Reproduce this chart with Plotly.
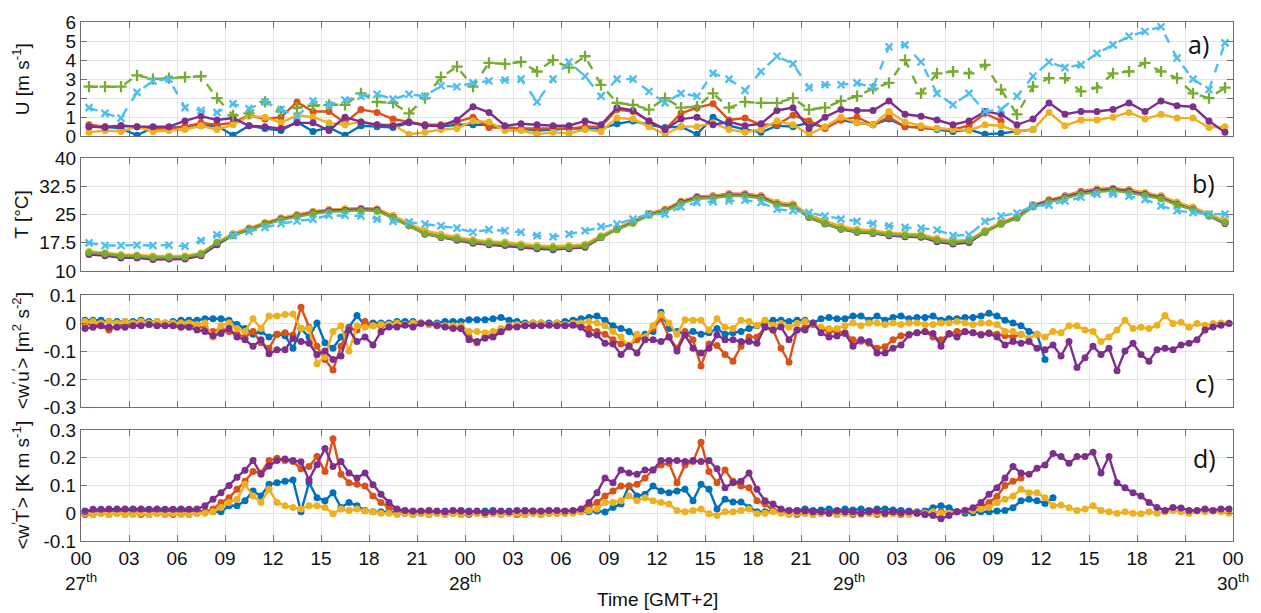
import plotly.graph_objects as go

# ---------------------------------------------------------------- time axes
# hours since 27th 00:00 (GMT+2); hourly means centred on :30,
# half-hourly fluxes centred on :15 / :45
hours = [k + 0.5 for k in range(72)]
half_hours = [0.25 + 0.5 * j for j in range(144)]

tick_hours = list(range(0, 73, 3))
tick_text = ["00<br>27<sup>th</sup>", "03", "06", "09", "12", "15", "18", "21",
             "00<br>28<sup>th</sup>", "03", "06", "09", "12", "15", "18", "21",
             "00<br>29<sup>th</sup>", "03", "06", "09", "12", "15", "18", "21",
             "00<br>30<sup>th</sup>"]

# ---------------------------------------------------------------- a) wind speed U [m/s]
u_blue = [0.5, 0.5, 0.4, 0.05, 0.45, 0.45, 0.5, 0.55, 0.55, 0.05, 0.55, 0.4, 0.3, 0.75, 0.25, 0.45, 0.05, 0.55, 0.5, 0.45, 0.7, 0.6, 0.5, 0.6,
          0.6, 0.6, 0.45, 0.4, 0.3, 0.35, 0.4, 0.4, 0.4, 0.65, 0.8, 0.6, 0.45, 0.5, 0.1, 1.0, 0.55, 0.35, 0.2, 0.55, 0.5, 0.7, 0.45, 0.85,
          0.7, 0.6, 0.9, 0.5, 0.45, 0.35, 0.25, 0.35, 0.1, 0.15, 0.25, 0.35] + [None] * 12
u_orange = [0.6, 0.5, 0.55, 0.5, 0.4, 0.4, 0.5, 0.7, 0.6, 0.7, 1.1, 0.9, 1.0, 1.8, 1.3, 1.3, 0.7, 1.4, 1.25, 0.9, 0.75, 0.6, 0.6, 0.75,
            1.0, 0.45, 0.45, 0.4, 0.4, 0.4, 0.4, 0.5, 0.5, 1.4, 1.3, 0.8, 0.35, 1.2, 1.5, 1.7, 0.85, 0.95, 0.6, 0.6, 1.1, 0.8, 0.4, 0.85,
            1.0, 0.6, 1.0, 0.5, 0.45, 0.4, 0.35, 0.55, 1.2, 0.8] + [None] * 14
u_yellow = [0.2, 0.3, 0.25, 0.5, 0.25, 0.3, 0.35, 0.55, 0.35, 0.6, 1.05, 1.0, 0.7, 1.1, 1.0, 0.7, 0.6, 0.75, 0.6, 0.6, 0.1, 0.2, 0.35, 0.4,
            0.8, 0.75, 0.3, 0.3, 0.1, 0.2, 0.15, 0.35, 0.25, 0.95, 0.9, 0.5, 0.1, 0.5, 0.5, 0.7, 0.35, 0.2, 0.35, 0.8, 0.6, 0.1, 0.5, 1.0,
            0.7, 0.6, 1.3, 0.75, 0.55, 0.4, 0.35, 0.3, 0.6, 0.55, 0.25, 0.35, 1.25, 0.55, 0.85, 0.85, 1.0, 1.25, 0.9, 1.15, 0.95, 0.95, 0.45, 0.5]
u_purple = [0.5, 0.45, 0.55, 0.5, 0.5, 0.5, 0.8, 1.05, 0.85, 0.95, 0.55, 0.5, 0.4, 0.7, 0.7, 0.3, 1.0, 0.75, 0.6, 0.55, 0.75, 0.55, 0.55, 0.85,
            1.55, 1.25, 0.55, 0.65, 0.6, 0.55, 0.55, 0.8, 0.6, 1.5, 1.35, 0.8, 0.35, 0.9, 1.0, 0.6, 0.75, 0.55, 0.65, 1.35, 1.5, 0.4, 1.0, 1.4,
            1.35, 1.35, 1.85, 1.15, 1.05, 0.85, 0.6, 0.8, 1.3, 1.15, 0.6, 0.9, 1.75, 1.15, 1.3, 1.3, 1.4, 1.75, 1.3, 1.85, 1.6, 1.55, 0.8, 0.2]
u_green = [2.6, 2.6, 2.6, 3.2, 3.0, 3.05, 3.1, 3.15, 2.0, 1.1, 1.2, 1.8, 1.3, 1.5, 1.6, 1.65, 1.65, 2.25, 1.8, 1.75, 1.2, 2.0, 3.1, 3.65,
           2.6, 3.85, 3.8, 3.9, 3.4, 4.0, 3.6, 4.2, 2.7, 1.75, 1.65, 1.4, 2.0, 1.5, 1.55, 2.25, 1.5, 1.8, 1.75, 1.75, 2.0, 1.4, 1.5, 1.85,
           2.1, 2.5, 2.8, 4.0, 2.25, 3.3, 3.4, 3.3, 3.75, 2.45, 1.15, 2.6, 3.05, 3.05, 2.35, 2.55, 3.3, 3.4, 3.85, 3.4, 3.05, 2.25, 2.0, 2.55]
u_cyan = [1.5, 1.2, 0.95, 2.3, 2.9, 3.0, 1.5, 1.35, 1.25, 1.7, 1.45, 1.8, 1.4, 1.05, 1.85, 1.65, 1.9, 2.1, 2.2, 1.95, 2.2, 2.1, 2.65, 2.6,
          2.8, 2.9, 2.95, 3.0, 1.8, 3.0, 3.9, 3.15, 2.1, 3.0, 3.0, 2.35, 1.75, 2.25, 2.1, 3.3, 3.0, 2.4, 3.4, 4.2, 3.8, 2.55, 2.7, 2.7,
          2.8, 2.55, 4.7, 4.8, 3.9, 2.25, 1.65, 2.25, 1.3, 1.4, 2.1, 3.15, 3.9, 3.6, 3.75, 4.35, 4.8, 5.25, 5.5, 5.75, 4.1, 3.0, 2.45, 4.9]

# ---------------------------------------------------------------- b) temperature T [degC]
t_blue = [14.7, 14.4, 13.8, 13.8, 13.4, 13.5, 13.5, 14.3, 17.2, 19.5, 21.1, 22.6, 23.9, 24.8, 25.6, 26.1, 26.3, 26.5, 26.3, 24.4, 22.2, 20.0, 19.0, 18.4,
          17.6, 17.2, 17.0, 16.5, 16.1, 15.9, 16.1, 16.5, 18.9, 21.2, 23.0, 25.1, 26.2, 28.3, 29.6, 29.8, 30.3, 30.3, 29.8, 27.9, 27.5, 24.4, 22.6, 21.2,
          20.4, 20.1, 19.5, 19.2, 19.1, 18.0, 17.3, 17.7, 20.4, 22.6, 24.3, 27.4, 28.7, 29.7, 30.9, 31.5, 31.8, 31.4, 30.6, 29.7, 27.9, 26.6, 24.8, 22.8]
t_orange = [14.8, 14.5, 14.0, 13.9, 13.6, 13.6, 13.6, 14.5, 17.3, 19.8, 21.3, 22.8, 24.0, 25.0, 25.8, 26.3, 26.5, 26.7, 26.5, 24.6, 22.4, 20.2, 19.2, 18.5,
            17.8, 17.3, 17.1, 16.6, 16.2, 16.0, 16.2, 16.6, 19.0, 21.3, 23.2, 25.3, 26.4, 28.5, 29.8, 30.0, 30.5, 30.5, 30.0, 28.2, 27.7, 24.6, 22.8, 21.4,
            20.6, 20.3, 19.7, 19.4, 19.3, 18.1, 17.5, 17.9, 20.5, 22.8, 24.5, 27.6, 28.9, 30.0, 31.2, 31.8, 32.0, 31.6, 30.8, 29.9, 28.1, 26.8, 25.0, 23.2]
t_yellow = [15.2, 14.9, 14.4, 14.3, 14.0, 14.0, 14.0, 14.8, 17.6, 20.0, 21.5, 22.9, 24.1, 25.0, 25.8, 26.3, 26.4, 26.6, 26.4, 24.8, 22.7, 20.7, 19.8, 19.1,
            18.3, 17.9, 17.7, 17.2, 16.8, 16.6, 16.8, 17.1, 19.4, 21.5, 23.2, 25.3, 26.3, 28.4, 29.7, 29.9, 30.4, 30.4, 30.0, 28.2, 27.8, 25.0, 23.3, 21.9,
            21.1, 20.8, 20.2, 19.9, 19.8, 18.7, 18.0, 18.3, 20.8, 22.9, 24.5, 27.5, 28.8, 29.8, 31.0, 31.6, 31.9, 31.5, 30.8, 30.0, 28.3, 27.0, 25.2, 23.4]
t_purple = [14.4, 14.1, 13.5, 13.5, 13.1, 13.2, 13.2, 14.1, 17.0, 19.5, 21.1, 22.5, 23.8, 24.6, 25.5, 26.0, 26.1, 26.4, 26.2, 24.2, 22.0, 19.8, 18.9, 18.2,
            17.4, 17.0, 16.8, 16.3, 15.9, 15.7, 15.9, 16.3, 18.9, 21.1, 22.9, 25.0, 26.0, 28.2, 29.5, 29.6, 30.2, 30.2, 29.6, 27.7, 27.3, 24.2, 22.5, 21.1,
            20.3, 20.0, 19.4, 19.1, 19.0, 17.8, 17.2, 17.6, 20.3, 22.5, 24.2, 27.3, 28.6, 29.6, 30.8, 31.4, 31.7, 31.2, 30.4, 29.5, 27.7, 26.4, 24.6, 22.6]
t_green = [14.9, 14.6, 14.0, 14.0, 13.6, 13.7, 13.7, 14.5, 17.6, 19.4, 20.9, 22.3, 23.6, 24.4, 25.2, 25.7, 25.8, 26.1, 25.9, 24.1, 22.0, 19.9, 19.1, 18.5,
           17.8, 17.4, 17.2, 16.7, 16.3, 16.1, 16.3, 16.7, 19.0, 21.0, 22.7, 24.8, 25.8, 27.9, 29.2, 29.4, 29.9, 29.9, 29.3, 27.5, 27.1, 24.3, 22.6, 21.2,
           20.5, 20.2, 19.7, 19.4, 19.3, 18.2, 17.6, 18.0, 20.4, 22.4, 24.0, 27.0, 28.3, 29.3, 30.4, 31.0, 31.3, 30.8, 30.1, 29.2, 27.5, 26.3, 24.6, 22.9]
t_cyan = [17.5, 16.8, 16.8, 16.9, 16.8, 16.9, 16.6, 18.1, 19.6, 19.4, 20.5, 21.6, 22.6, 23.3, 23.8, 24.8, 24.8, 24.6, 23.8, 23.2, 23.0, 22.5, 22.0, 21.4,
          20.3, 21.0, 20.7, 20.3, 19.4, 19.1, 19.8, 20.7, 21.8, 22.5, 23.8, 25.1, 25.1, 27.0, 28.2, 28.4, 28.6, 28.8, 28.2, 26.4, 26.0, 25.5, 24.6, 23.8,
          23.2, 22.6, 22.0, 21.6, 21.4, 20.9, 19.4, 19.6, 23.2, 24.6, 25.4, 27.3, 27.5, 28.6, 29.6, 30.4, 30.4, 29.9, 29.0, 27.3, 26.0, 25.5, 25.1, 25.1]

# ---------------------------------------------------------------- c) momentum flux <w'u'> [m2/s2]
wu_blue = [0.01, 0.01, 0.01, 0.005, 0.005, 0.005, 0.005, 0.01, 0.005, 0.005, 0.0, 0.005,
           0.01, 0.01, 0.01, 0.015, 0.015, 0.015, 0.01, -0.005, -0.02, -0.04, -0.03, -0.05,
           -0.04, -0.045, -0.09, -0.02, -0.05, 0.0, -0.07, -0.09, -0.05, -0.015, 0.027, -0.01,
           0.0, 0.0, 0.0, 0.005, 0.005, 0.005, 0.0, 0.0, 0.0, 0.005, 0.005, 0.005,
           0.012, 0.012, 0.012, 0.015, 0.02, 0.01, 0.005, 0.0, 0.0, 0.0, 0.0, 0.0,
           0.005, 0.01, 0.015, 0.02, 0.025, 0.01, -0.01, -0.02, -0.03, -0.05, -0.04, -0.03,
           0.038, -0.02, -0.03, -0.04, -0.03, -0.04, -0.035, -0.02, -0.04, -0.035, -0.03, -0.02,
           -0.01, 0.0, 0.01, 0.01, 0.005, 0.01, 0.01, 0.0, 0.015, 0.02, 0.015, 0.015,
           0.025, 0.025, 0.01, 0.025, 0.01, 0.02, 0.025, 0.015, 0.02, 0.02, 0.025, 0.01,
           0.015, 0.015, 0.02, 0.02, 0.025, 0.035, 0.025, 0.01, 0.0, -0.01, -0.03, -0.04,
           -0.13] + [None] * 23
wu_orange = [-0.005, -0.005, -0.01, -0.025, -0.01, -0.005, -0.005, -0.005, -0.005, 0.0, -0.005, -0.005,
             -0.005, -0.01, -0.01, -0.02, -0.03, -0.02, -0.03, -0.04, -0.05, -0.03, -0.07, -0.09,
             -0.04, -0.035, -0.043, 0.056, -0.015, -0.083, -0.13, -0.168, -0.083, -0.02, -0.025, 0.005,
             -0.01, -0.01, -0.005, -0.005, -0.005, -0.005, 0.0, -0.005, -0.01, -0.01, -0.015, -0.02,
             -0.05, -0.07, -0.05, -0.04, -0.03, -0.015, -0.01, -0.005, -0.005, -0.005, -0.005, -0.005,
             -0.005, -0.005, -0.01, -0.02, -0.03, -0.04, -0.06, -0.075, -0.08, -0.06, -0.05, -0.02,
             0.015, -0.05, -0.09, -0.03, -0.06, -0.153, -0.075, -0.08, -0.112, -0.136, -0.083, -0.05,
             -0.05, -0.015, -0.025, -0.09, -0.14, -0.025, -0.015, -0.005, -0.02, -0.03, -0.03, -0.035,
             -0.06, -0.065, -0.072, -0.09, -0.085, -0.06, -0.045, -0.04, -0.035, -0.03, -0.05, -0.06,
             -0.04, -0.03, -0.03, -0.035, -0.04, -0.035, -0.04, -0.045, -0.05, -0.04] + [None] * 26
wu_yellow = [0.005, 0.005, 0.0, 0.005, 0.0, 0.005, 0.0, 0.005, 0.0, 0.005, 0.0, 0.0,
             0.0, 0.0, -0.005, 0.0, -0.05, -0.01, 0.0, -0.02, -0.03, 0.015, -0.02, 0.025,
             0.025, 0.03, 0.032, -0.02, -0.02, -0.145, -0.12, -0.03, -0.01, -0.1, -0.01, -0.015,
             -0.01, -0.005, -0.005, 0.0, -0.005, 0.0, 0.0, -0.005, -0.005, -0.01, -0.01, -0.01,
             -0.03, -0.03, -0.035, -0.03, -0.02, -0.01, -0.005, -0.005, 0.0, 0.0, -0.005, 0.0,
             -0.005, 0.0, 0.0, 0.005, 0.0, -0.01, -0.03, -0.05, -0.085, -0.04, -0.05, -0.01,
             0.03, 0.0, -0.04, 0.012, 0.01, 0.01, -0.025, 0.015, -0.015, -0.02, 0.01, 0.005,
             -0.008, 0.01, -0.008, -0.002, -0.015, -0.002, 0.005, -0.002, -0.015, -0.02, -0.02, -0.01,
             0.0, -0.01, 0.0, 0.0, -0.005, 0.0, -0.005, 0.0, 0.0, -0.005, -0.005, 0.0,
             0.0, 0.005, 0.0, -0.005, 0.0, 0.0, -0.005, -0.03, -0.03, -0.04, -0.055, -0.04,
             -0.05, -0.03, -0.035, -0.01, -0.01, -0.025, -0.03, -0.066, -0.05, -0.025, 0.01, -0.02,
             -0.015, -0.02, -0.008, 0.027, -0.002, 0.003, -0.015, -0.002, -0.008, -0.002, 0.0, 0.0]
wu_purple = [-0.02, -0.015, -0.01, -0.015, -0.015, -0.015, -0.01, -0.01, -0.005, -0.01, -0.01, -0.01,
             -0.015, -0.015, -0.025, -0.03, -0.045, -0.037, -0.02, -0.05, -0.06, -0.083, -0.06, -0.11,
             -0.095, -0.095, -0.055, -0.066, -0.072, -0.112, -0.1, -0.13, -0.118, -0.025, -0.066, -0.05,
             -0.078, -0.031, -0.014, -0.014, -0.008, -0.014, -0.002, 0.0, -0.008, -0.014, -0.02, -0.02,
             -0.06, -0.066, -0.054, -0.05, -0.031, -0.014, -0.014, -0.01, -0.01, -0.01, -0.008, -0.01,
             -0.01, -0.008, -0.015, -0.04, -0.043, -0.072, -0.075, -0.112, -0.083, -0.107, -0.06, -0.06,
             -0.066, -0.05, -0.1, -0.043, -0.09, -0.107, -0.09, -0.043, -0.06, -0.06, -0.066, -0.066,
             -0.072, -0.014, -0.025, -0.014, -0.06, -0.025, -0.025, 0.0, -0.035, -0.05, -0.046, -0.037,
             -0.083, -0.06, -0.066, -0.107, -0.107, -0.09, -0.078, -0.043, -0.035, -0.031, -0.037, -0.083,
             -0.037, -0.05, -0.031, -0.035, -0.043, -0.037, -0.05, -0.078, -0.066, -0.072, -0.066, -0.09,
             -0.095, -0.078, -0.118, -0.066, -0.159, -0.124, -0.083, -0.112, -0.09, -0.17, -0.1, -0.072,
             -0.112, -0.136, -0.095, -0.09, -0.095, -0.078, -0.072, -0.06, -0.025, -0.014, -0.008, -0.002]

# ---------------------------------------------------------------- d) heat flux <w'T'> [K m/s]
wt_blue = [0.008, 0.008, 0.01, 0.01, 0.008, 0.01, 0.012, 0.008, 0.01, 0.008, 0.01, 0.008, 0.008, 0.01, 0.008,
           0.005, 0.005, 0.005, 0.027, 0.027, 0.045, 0.08, 0.062, 0.104, 0.11, 0.115, 0.12, 0.005, 0.11, 0.056,
           0.045, 0.074, 0.021, 0.039, 0.027, 0.01, 0.005, 0.005, 0.005, 0.002, 0.005, 0.0, 0.005, 0.002, 0.005,
           0.008, 0.005, 0.01, 0.008, 0.005, 0.008, 0.01, 0.005, 0.008, 0.005, 0.01, 0.008, 0.005, 0.008, 0.005,
           0.005, 0.008, 0.005, 0.005, 0.008, 0.004, 0.021, 0.033, 0.098, 0.062, 0.068, 0.098, 0.08, 0.074, 0.08,
           0.086, 0.045, 0.104, 0.086, 0.015, 0.05, 0.04, 0.04, 0.021, 0.005, 0.005, 0.01, 0.005, 0.008, 0.01,
           0.015, 0.01, 0.012, 0.015, 0.01, 0.015, 0.012, 0.015, 0.01, 0.015, 0.015, 0.012, 0.01, 0.008, 0.005,
           0.008, 0.02, 0.027, 0.02, 0.005, 0.0, 0.002, 0.005, 0.005, 0.008, 0.01, 0.02, 0.045, 0.05, 0.045,
           0.035, 0.056] + [None] * 22
wt_orange = [-0.005, -0.005, 0.0, -0.005, 0.0, -0.005, 0.0, -0.005, -0.005, 0.0, -0.005, -0.005, 0.0, -0.005, 0.0,
             0.005, 0.015, 0.039, 0.056, 0.086, 0.115, 0.15, 0.145, 0.19, 0.198, 0.19, 0.186, 0.16, 0.168, 0.204,
             0.15, 0.268, 0.14, 0.11, 0.104, 0.098, 0.062, 0.039, 0.021, 0.01, 0.0, -0.005, 0.0, -0.005, 0.0,
             -0.005, 0.0, -0.005, -0.005, 0.0, -0.005, 0.0, -0.005, 0.0, -0.005, -0.005, 0.0, -0.005, 0.0, 0.0,
             0.0, 0.005, 0.01, 0.021, 0.039, 0.062, 0.08, 0.098, 0.098, 0.104, 0.127, 0.156, 0.174, 0.18, 0.11,
             0.174, 0.186, 0.256, 0.15, 0.11, 0.156, 0.115, 0.098, 0.092, 0.045, 0.033, 0.01, 0.005, 0.0, -0.005,
             0.0, -0.005, 0.0, 0.0, -0.005, 0.0, -0.005, 0.0, 0.0, -0.005, 0.0, 0.0, -0.005, 0.0, 0.0,
             -0.005, 0.0, 0.005, 0.0, 0.005, 0.01, 0.015, 0.021, 0.039, 0.06, 0.1, 0.115, 0.127] + [None] * 26
wt_yellow = [0.0, -0.005, 0.0, -0.005, 0.0, -0.005, -0.005, 0.0, -0.005, 0.0, -0.005, 0.0, -0.005, -0.005, 0.0,
             0.0, 0.005, 0.021, 0.039, 0.05, 0.104, 0.062, 0.039, 0.086, 0.039, 0.027, 0.021, 0.015, 0.027, 0.027,
             0.021, -0.002, 0.015, 0.01, 0.015, 0.008, 0.005, 0.0, 0.0, -0.005, 0.0, -0.005, 0.0, -0.005, 0.0,
             -0.005, 0.0, -0.005, 0.0, 0.0, -0.005, 0.0, -0.005, 0.0, 0.0, -0.005, 0.0, -0.005, 0.0, 0.0,
             0.0, 0.0, 0.005, 0.01, 0.015, 0.039, 0.039, 0.045, 0.062, 0.045, 0.056, 0.045, 0.039, 0.033, 0.01,
             0.005, 0.01, 0.015, -0.002, -0.008, 0.005, 0.005, 0.01, 0.015, -0.002, 0.0, 0.005, 0.0, -0.005, 0.0,
             0.0, -0.005, 0.0, 0.0, -0.005, 0.0, 0.0, -0.005, 0.0, 0.0, -0.005, 0.0, 0.0, -0.005, 0.0,
             0.0, 0.005, 0.0, 0.0, 0.005, 0.008, 0.01, 0.015, 0.021, 0.039, 0.05, 0.062, 0.086, 0.074, 0.074,
             0.056, 0.027, 0.03, 0.02, 0.01, 0.015, 0.027, 0.01, 0.005, 0.0, 0.005, 0.0, -0.002, 0.005, 0.0,
             0.005, 0.01, 0.005, 0.0, 0.008, 0.005, 0.008, 0.005, 0.0]
wt_purple = [0.006, 0.014, 0.014, 0.015, 0.015, 0.015, 0.015, 0.015, 0.014, 0.015, 0.014, 0.014, 0.015, 0.014, 0.015,
             0.027, 0.05, 0.074, 0.1, 0.13, 0.155, 0.19, 0.14, 0.17, 0.19, 0.195, 0.19, 0.185, 0.12, 0.175,
             0.233, 0.168, 0.186, 0.145, 0.127, 0.145, 0.103, 0.068, 0.039, 0.015, 0.01, 0.008, 0.008, 0.01, 0.008,
             0.005, 0.01, 0.008, 0.005, 0.008, 0.002, 0.005, 0.008, 0.005, 0.01, 0.008, 0.008, 0.008, 0.01, 0.01,
             0.008, 0.01, 0.015, 0.039, 0.074, 0.127, 0.11, 0.156, 0.145, 0.14, 0.156, 0.156, 0.19, 0.19, 0.19,
             0.186, 0.19, 0.186, 0.19, 0.16, 0.092, 0.11, 0.115, 0.145, 0.086, 0.045, 0.033, 0.015, 0.01, 0.008,
             0.008, 0.005, 0.005, 0.0, 0.008, 0.005, 0.005, 0.0, 0.005, 0.008, 0.0, 0.005, 0.002, 0.005, 0.0,
             -0.005, -0.008, -0.02, -0.008, 0.005, 0.01, 0.02, 0.039, 0.068, 0.092, 0.127, 0.168, 0.145, 0.14, 0.162,
             0.174, 0.215, 0.204, 0.18, 0.204, 0.204, 0.22, 0.145, 0.204, 0.11, 0.092, 0.074, 0.062, 0.039, 0.021,
             0.01, 0.021, 0.019, 0.01, 0.01, 0.015, 0.01, 0.015, 0.015]

# ---------------------------------------------------------------- styling
BLUE, ORANGE, YELLOW = "#0072BD", "#D95319", "#EDB120"
PURPLE, GREEN, CYAN = "#7E2F8E", "#77AC30", "#4DBEEE"
FONT = "Liberation Sans, Arial, sans-serif"
AXIS_COL = "#6f6f6f"
GRID_COL = "#e4e4e4"
LW = 2.4

fig = go.Figure()


def dot_series(x, y, color, yaxis):
    fig.add_trace(go.Scatter(
        x=x, y=y, mode="lines+markers", xaxis="x", yaxis=yaxis,
        line=dict(color=color, width=LW),
        marker=dict(symbol="circle", size=7, color=color),
        showlegend=False, connectgaps=False))


def dashed_series(x, y, color, symbol, yaxis, size, dash="dash"):
    fig.add_trace(go.Scatter(
        x=x, y=y, mode="lines+markers", xaxis="x", yaxis=yaxis,
        line=dict(color=color, width=LW, dash=dash),
        marker=dict(symbol=symbol, size=size, color=color,
                    line=dict(color=color, width=2.3)),
        showlegend=False, connectgaps=False))


# a) wind speed
for ys, c in [(u_blue, BLUE), (u_orange, ORANGE), (u_yellow, YELLOW), (u_purple, PURPLE)]:
    dot_series(hours, ys, c, "y")
dashed_series(hours, u_green, GREEN, "cross-thin", "y", 8)
dashed_series(hours, u_cyan, CYAN, "x-thin", "y", 7)

# b) temperature
for ys, c in [(t_blue, BLUE), (t_orange, ORANGE), (t_yellow, YELLOW), (t_purple, PURPLE), (t_green, GREEN)]:
    dot_series(hours, ys, c, "y2")
dashed_series(hours, t_cyan, CYAN, "x-thin", "y2", 7)

# c) momentum flux
for ys, c in [(wu_blue, BLUE), (wu_orange, ORANGE), (wu_yellow, YELLOW), (wu_purple, PURPLE)]:
    dot_series(half_hours, ys, c, "y3")

# d) heat flux
for ys, c in [(wt_blue, BLUE), (wt_orange, ORANGE), (wt_yellow, YELLOW), (wt_purple, PURPLE)]:
    dot_series(half_hours, ys, c, "y4")


def yaxis_style(domain, rng, tickvals, ticktext):
    return dict(domain=domain, range=rng, tickvals=tickvals, ticktext=ticktext,
                anchor="x", showline=True, linecolor=AXIS_COL, linewidth=1,
                mirror="ticks", ticks="inside", ticklen=6, tickcolor=AXIS_COL,
                showgrid=True, gridcolor=GRID_COL, gridwidth=1, zeroline=False,
                tickfont=dict(family=FONT, size=19, color="#111111"))


fig.update_layout(
    width=1261, height=613,
    margin=dict(l=81, r=19, t=18, b=72),
    paper_bgcolor="white", plot_bgcolor="white",
    font=dict(family=FONT, size=19, color="#111111"),
    xaxis=dict(domain=[0, 1], range=[0, 72], anchor="y4",
               tickvals=tick_hours, ticktext=tick_text,
               showline=True, linecolor=AXIS_COL, linewidth=1, mirror="ticks",
               ticks="inside", ticklen=6, tickcolor=AXIS_COL,
               showgrid=True, gridcolor=GRID_COL, zeroline=False,
               tickfont=dict(family=FONT, size=19, color="#111111")),
    yaxis=yaxis_style([0.780, 1.0], [0, 6], [0, 1, 2, 3, 4, 5, 6],
                      ["0", "1", "2", "3", "4", "5", "6"]),
    yaxis2=yaxis_style([0.520, 0.738], [10, 40], [10, 17.5, 25, 32.5, 40],
                       ["10", "17.5", "25", "32.5", "40"]),
    yaxis3=yaxis_style([0.258, 0.474], [-0.3, 0.1], [-0.3, -0.2, -0.1, 0, 0.1],
                       ["-0.3", "-0.2", "-0.1", "0", "0.1"]),
    yaxis4=yaxis_style([0.0, 0.214], [-0.1, 0.3], [-0.1, 0, 0.1, 0.2, 0.3],
                       ["-0.1", "0", "0.1", "0.2", "0.3"]),
)

# the upper three panels repeat the shared time grid without labels
for name, dom in [("xaxis2", "y"), ("xaxis3", "y2"), ("xaxis4", "y3")]:
    fig.layout[name] = dict(matches="x", anchor=dom, range=[0, 72], tickvals=tick_hours,
                            showticklabels=False, showline=True, linecolor=AXIS_COL,
                            linewidth=1, mirror="ticks", ticks="inside", ticklen=6,
                            tickcolor=AXIS_COL, showgrid=True, gridcolor=GRID_COL,
                            zeroline=False)

# route panels a-c to their own x axes so each draws a full box
panel_axes = {"y": "x2", "y2": "x3", "y3": "x4"}
for tr in fig.data:
    if tr.yaxis in panel_axes:
        tr.xaxis = panel_axes[tr.yaxis]

# axis titles
y_titles = [
    ("U [m s<sup>-1</sup>]", 0.890),
    ("T [°C]", 0.629),
    ("&lt;w<sup>′</sup>u<sup>′</sup>&gt; [m<sup>2</sup> s<sup>-2</sup>]", 0.366),
    ("&lt;w<sup>′</sup>T<sup>′</sup>&gt; [K m s<sup>-1</sup>]", 0.107),
]
for text, yc in y_titles:
    fig.add_annotation(text=text, xref="paper", yref="paper", x=-0.052, y=yc,
                       textangle=-90, showarrow=False, xanchor="center", yanchor="middle",
                       font=dict(family=FONT, size=19, color="#111111"))

fig.add_annotation(text="Time [GMT+2]", xref="paper", yref="paper", x=0.5, y=-0.113,
                   showarrow=False, xanchor="center", yanchor="middle",
                   font=dict(family=FONT, size=19, color="#111111"))

# panel letters
for letter, xp, yp in [("a)", 0.970, 0.958), ("b)", 0.974, 0.690),
                       ("c)", 0.975, 0.304), ("d)", 0.975, 0.159)]:
    fig.add_annotation(text=letter, xref="paper", yref="paper", x=xp, y=yp,
                       showarrow=False, xanchor="center", yanchor="middle",
                       font=dict(family="Open Sans, sans-serif", size=25, color="#111111"))

fig.write_html("out.html")
